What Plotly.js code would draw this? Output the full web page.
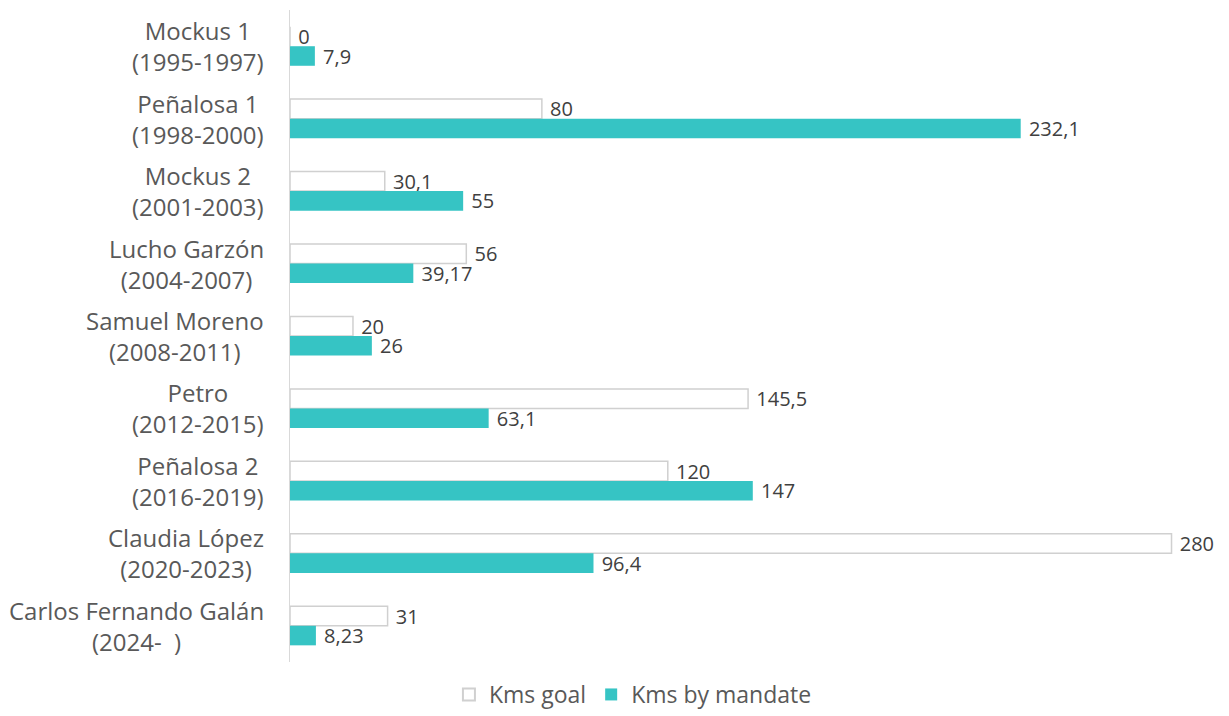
<!DOCTYPE html>
<html>
<head>
<meta charset="utf-8">
<script src="https://cdn.plot.ly/plotly-3.0.1.min.js"></script>
<style>html,body{margin:0;padding:0;background:#fff}#chart{width:1229px;height:716px}</style>
</head>
<body>
<div id="chart"></div>
<script>
const categories = [
  "Mockus 1<br>(1995-1997)",
  "Peñalosa 1<br>(1998-2000)",
  "Mockus 2<br>(2001-2003)",
  "Lucho Garzón<br>(2004-2007)",
  "Samuel Moreno<br>(2008-2011)",
  "Petro<br>(2012-2015)",
  "Peñalosa 2<br>(2016-2019)",
  "Claudia López<br>(2020-2023)",
  "Carlos Fernando Galán<br>(2024-  )"
];
const kmsGoal = [0, 80, 30.1, 56, 20, 145.5, 120, 280, 31];
const kmsMandate = [7.9, 232.1, 55, 39.17, 26, 63.1, 147, 96.4, 8.23];
const goalLabels = ["0", "80", "30,1", "56", "20", "145,5", "120", "280", "31"];
const mandateLabels = ["7,9", "232,1", "55", "39,17", "26", "63,1", "147", "96,4", "8,23"];

const FONT = "'Open Sans', 'Noto Sans', sans-serif";
const ids = categories.map((c, i) => "c" + i);

const traces = [
  {
    type: "bar", orientation: "h", name: "Kms goal",
    y: ids, x: kmsGoal,
    text: goalLabels, texttemplate: "\u00a0%{text}",
    textposition: "outside", cliponaxis: false, constraintext: "none",
    textfont: {family: FONT, size: 20, color: "#404040"},
    marker: {color: "#ffffff", line: {color: "#d0d0d0", width: 1.5}},
    hoverinfo: "skip"
  },
  {
    type: "bar", orientation: "h", name: "Kms by mandate",
    y: ids, x: kmsMandate,
    text: mandateLabels, texttemplate: "\u00a0%{text}",
    textposition: "outside", cliponaxis: false, constraintext: "none",
    textfont: {family: FONT, size: 20, color: "#404040"},
    marker: {color: "#36c4c4", line: {width: 0}},
    hoverinfo: "skip"
  }
];

const annotations = categories.map((c, i) => ({
  xref: "paper", yref: "y", x: 0, y: ids[i],
  xanchor: "right", yanchor: "middle", xshift: -24,
  align: "center", showarrow: false, text: c,
  font: {family: FONT, size: 24, color: "#595959"}
}));

const layout = {
  width: 1229, height: 716,
  margin: {l: 290, r: 26, t: 10, b: 54},
  paper_bgcolor: "#ffffff", plot_bgcolor: "#ffffff",
  barmode: "group", bargap: 0.46, bargroupgap: 0,
  xaxis: {range: [0, 290], showgrid: false, zeroline: false, showline: false,
          showticklabels: false, ticks: "", fixedrange: true},
  yaxis: {type: "category", autorange: "reversed", showgrid: false, zeroline: false,
          showline: true, linecolor: "#d9d9d9", linewidth: 1.5,
          showticklabels: false, ticks: "", fixedrange: true},
  showlegend: true,
  legend: {orientation: "h", xref: "container", yref: "container",
           x: 0.515, y: -0.008, xanchor: "center", yanchor: "bottom",
           font: {family: FONT, size: 23, color: "#595959"},
           itemsizing: "constant", traceorder: "normal"},
  annotations: annotations
};

Plotly.newPlot("chart", traces, layout, {displayModeBar: false, staticPlot: true});
</script>
</body>
</html>
